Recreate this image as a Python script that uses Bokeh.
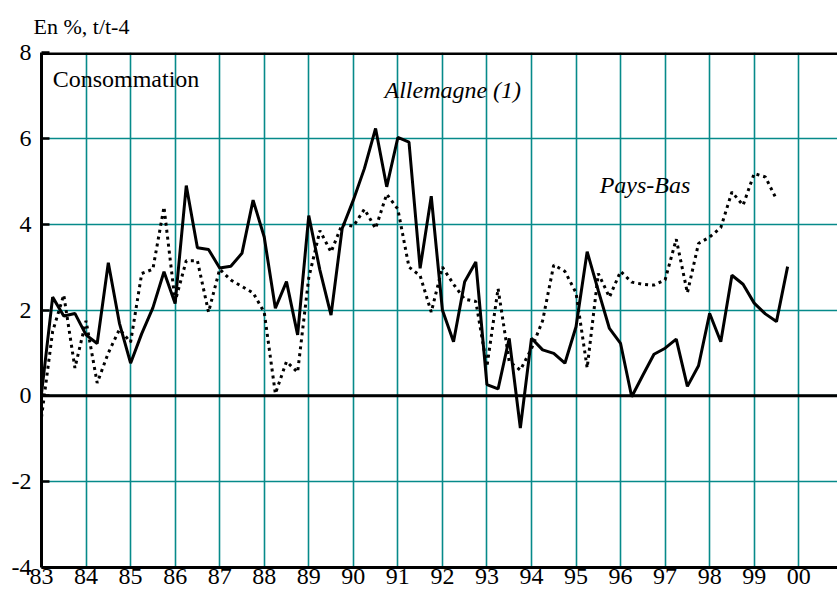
from bokeh.plotting import figure
from bokeh.models import Range1d, FixedTicker, Span, Title
from bokeh.core.properties import value
from bokeh.embed import file_html
from bokeh.resources import INLINE

# ---- data (quarterly, t/t-4 growth in %) ----
start_year = 83
allemagne = [
    0.05, 2.30, 1.86, 1.92,   # 83
    1.42, 1.22, 3.10, 1.69,   # 84
    0.76, 1.45, 2.05, 2.89,   # 85
    2.15, 4.90, 3.45, 3.41,   # 86
    2.98, 3.02, 3.32, 4.56,   # 87
    3.70, 2.04, 2.66, 1.42,   # 88
    4.20, 2.93, 1.88, 3.90,   # 89
    4.56, 5.30, 6.23, 4.87,   # 90
    6.02, 5.91, 2.97, 4.65,   # 91
    2.00, 1.26, 2.66, 3.12,   # 92
    0.26, 0.16, 1.34, -0.75,  # 93
    1.34, 1.07, 0.99, 0.76,   # 94
    1.61, 3.36, 2.45, 1.57,   # 95
    1.22, -0.02, 0.48, 0.97,  # 96
    1.11, 1.32, 0.22, 0.70,   # 97
    1.92, 1.26, 2.81, 2.60,   # 98
    2.16, 1.91, 1.73, 3.01,   # 99
]
pays_bas = [
    -0.50, 1.50, 2.35, 0.65,  # 83
    1.75, 0.30, 1.00, 1.55,   # 84
    1.25, 2.85, 2.95, 4.40,   # 85
    2.20, 3.15, 3.15, 1.95,   # 86
    2.95, 2.70, 2.55, 2.40,   # 87
    1.95, 0.05, 0.80, 0.55,   # 88
    2.75, 3.85, 3.35, 4.00,   # 89
    3.95, 4.35, 3.90, 4.70,   # 90
    4.35, 3.00, 2.80, 1.95,   # 91
    3.00, 2.60, 2.25, 2.20,   # 92
    0.68, 2.50, 0.80, 0.60,   # 93
    1.10, 1.75, 3.05, 2.90,   # 94
    2.40, 0.65, 2.85, 2.30,   # 95
    2.90, 2.65, 2.60, 2.58,   # 96
    2.70, 3.65, 2.40, 3.55,   # 97
    3.70, 3.92, 4.75, 4.44,   # 98
    5.18, 5.10, 4.58,         # 99
]
tick_years = list(range(83, 101))
tick_labels = ["83", "84", "85", "86", "87", "88", "89", "90", "91",
               "92", "93", "94", "95", "96", "97", "98", "99", "00"]
y_ticks = [-4, -2, 0, 2, 4, 6, 8]
y_tick_labels = ["-4", "-2", "0", "2", "4", "6", "8"]

x_all = [start_year + i / 4 for i in range(len(allemagne))]
x_pb = [start_year + i / 4 for i in range(len(pays_bas))]

TEAL = "#068a8a"
SERIF = "'Liberation Serif'"
SERIF_GLYPH = "Liberation Serif, serif"

p = figure(width=837, height=596, x_range=Range1d(83, 100.87), y_range=Range1d(-4, 8),
           output_backend="svg", toolbar_location=None,
           min_border_left=41, min_border_top=52, min_border_bottom=29, min_border_right=0)
p.outline_line_color = None
p.background_fill_color = "white"

# grid
p.xaxis.ticker = FixedTicker(ticks=tick_years)
p.yaxis.ticker = FixedTicker(ticks=y_ticks)
p.xgrid.grid_line_color = TEAL
p.ygrid.grid_line_color = TEAL
p.xgrid.grid_line_width = 1.6
p.ygrid.grid_line_width = 1.6

# axes
p.xaxis.major_label_overrides = {yr: lab for yr, lab in zip(tick_years, tick_labels)}
p.yaxis.major_label_overrides = {v: lab for v, lab in zip(y_ticks, y_tick_labels)}
for ax in (p.xaxis, p.yaxis):
    ax.axis_line_width = 3
    ax.axis_line_color = "black"
    ax.minor_tick_line_color = None
    ax.major_label_text_font = SERIF
    ax.major_label_text_color = "black"
p.xaxis.major_tick_in = 0
p.xaxis.major_tick_out = 0
p.xaxis.major_label_standoff = 1
p.xaxis.major_label_text_font_size = "24px"
p.yaxis.major_tick_in = 8
p.yaxis.major_tick_out = 0
p.yaxis.major_tick_line_width = 2.5
p.yaxis.major_tick_line_color = "black"
p.yaxis.major_label_standoff = 10
p.yaxis.major_label_text_font_size = "24px"

# top frame line at y = 8
p.add_layout(Span(location=8, dimension="width", line_color="black", line_width=5))

# unit note above the frame
p.add_layout(Title(text="En %, t/t-4", align="left", offset=-8, standoff=24,
                   vertical_align="top",
                   text_font=SERIF, text_font_size="22px", text_font_style="normal",
                   text_color="black"), "above")

# zero line
p.add_layout(Span(location=0, dimension="width", line_color="black", line_width=3))

# series
p.line(x_pb, pays_bas, line_color="black", line_width=3, line_dash="3 4")
p.line(x_all, allemagne, line_color="black", line_width=3)

# texts
p.text(x=[83.25], y=[7.07], text=["Consommation"], text_font=value(SERIF_GLYPH),
       text_font_size="24px", text_color="black")
p.text(x=[90.70, 95.53], y=[6.83, 4.62], text=["Allemagne (1)", "Pays-Bas"],
       text_font=value(SERIF_GLYPH), text_font_style="italic",
       text_font_size="24px", text_color="black")

open("out.html", "w").write(file_html(p, INLINE))
